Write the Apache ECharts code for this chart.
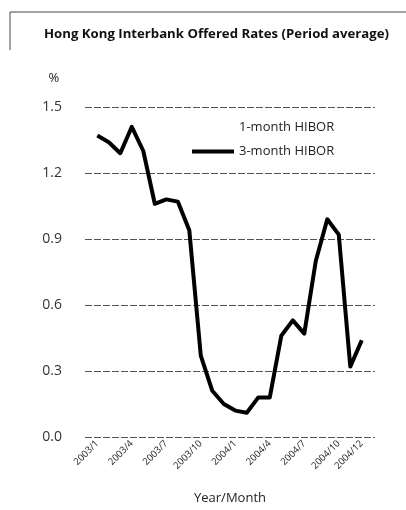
<!DOCTYPE html>
<html>
<head>
<meta charset="utf-8">
<script src="https://cdn.jsdelivr.net/npm/echarts@6/dist/echarts.min.js"></script>
<style>
  html, body { margin: 0; padding: 0; background: #fff; }
  #chart { width: 406px; height: 510px; }
</style>
</head>
<body>
<div id="chart"></div>
<script>
// months 2003/1 .. 2004/12
var months = ['2003/1', '2003/2', '2003/3', '2003/4', '2003/5', '2003/6',
    '2003/7', '2003/8', '2003/9', '2003/10', '2003/11', '2003/12',
    '2004/1', '2004/2', '2004/3', '2004/4', '2004/5', '2004/6',
    '2004/7', '2004/8', '2004/9', '2004/10', '2004/11', '2004/12'];
var hibor3m = [1.37, 1.34, 1.29, 1.41, 1.30, 1.06, 1.08, 1.07, 0.94, 0.37, 0.21, 0.15,
    0.12, 0.11, 0.18, 0.18, 0.46, 0.53, 0.47, 0.80, 0.99, 0.92, 0.32, 0.44];
var hibor1m = []; // not visible in the printed chart
var labelIdx = [0, 3, 6, 9, 12, 15, 18, 21, 23];

var chart = echarts.init(document.getElementById('chart'));
var font = '"Open Sans", "Noto Sans", sans-serif';

function pairs(arr) {
    return arr.map(function(v, i) { return [i, v]; });
}

var option = {
    animation: false,
    textStyle: { fontFamily: font },
    title: {
        text: 'Hong Kong Interbank Offered Rates (Period average)',
        left: 39,
        top: 23,
        textStyle: { fontSize: 13.2, fontWeight: 'bold', color: '#111', fontFamily: font }
    },
    graphic: [{
        type: 'polyline',
        shape: { points: [[10, 50], [10, 12], [406, 12]] },
        style: { stroke: '#444', lineWidth: 1, fill: null }
    }],
    legend: {
        orient: 'vertical',
        left: 187,
        top: 116,
        itemWidth: 42,
        itemHeight: 4,
        itemGap: 11,
        textStyle: { fontSize: 13, color: '#222', fontFamily: font },
        data: [
            { name: '1-month HIBOR', icon: 'none' },
            { name: '3-month HIBOR', icon: 'rect' }
        ]
    },
    grid: { left: 85, right: 31, top: 107, bottom: 70 },
    xAxis: {
        type: 'value',
        min: -1.07,
        max: 24.15,
        name: 'Year/Month',
        nameLocation: 'middle',
        nameGap: 55,
        nameTextStyle: { fontSize: 13, color: '#222' },
        axisLine: { show: false },
        axisTick: { show: false },
        splitLine: { show: false },
        axisLabel: {
            customValues: labelIdx,
            rotate: 45,
            fontSize: 9.5,
            color: '#222',
            margin: 5,
            formatter: function(v) { return months[Math.round(v)]; }
        }
    },
    yAxis: {
        type: 'value',
        min: 0,
        max: 1.5,
        interval: 0.3,
        name: '%',
        nameGap: 22,
        nameTextStyle: { fontSize: 13, color: '#222', align: 'right', padding: [0, 38, 0, 0] },
        axisLine: { show: false },
        axisTick: { show: false },
        axisLabel: {
            fontSize: 14,
            color: '#333',
            margin: 23,
            formatter: function(v) { return v.toFixed(1); }
        },
        splitLine: { lineStyle: { color: '#555', type: [7, 2], width: 1 } }
    },
    series: [{
        name: '1-month HIBOR',
        type: 'line',
        showSymbol: false,
        lineStyle: { color: '#bbb', width: 1 },
        data: pairs(hibor1m)
    }, {
        name: '3-month HIBOR',
        type: 'line',
        showSymbol: false,
        itemStyle: { color: '#000' },
        lineStyle: { color: '#000', width: 4, join: 'round' },
        data: pairs(hibor3m)
    }]
};
chart.setOption(option);
</script>
</body>
</html>
